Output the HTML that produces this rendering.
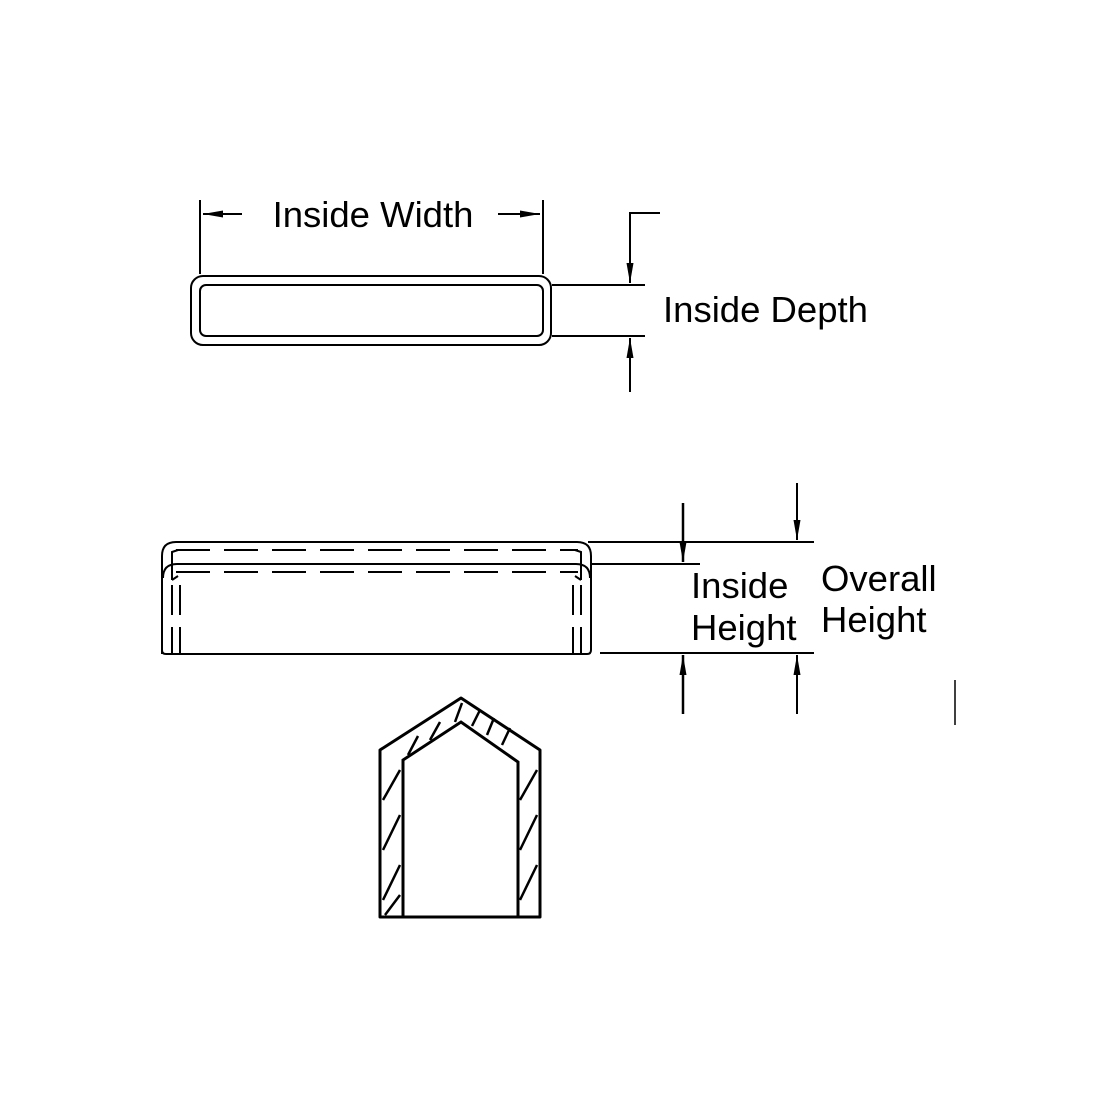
<!DOCTYPE html>
<html><head><meta charset="utf-8"><style>
html,body{margin:0;padding:0;background:#fff;}
svg{display:block}
text{font-family:"Liberation Sans",Arial,sans-serif;font-size:36.5px;fill:#000}
</style></head><body>
<svg width="1100" height="1100" viewBox="0 0 1100 1100" xmlns="http://www.w3.org/2000/svg">
<defs>
<marker id="ah" viewBox="0 0 20 10" markerWidth="20" markerHeight="10" refX="20" refY="5" orient="auto" markerUnits="userSpaceOnUse">
<path d="M0,1.5 L20,5 L0,8.5 z" fill="#000"/></marker>
<marker id="av" viewBox="0 0 10 24" markerWidth="24" markerHeight="10" refX="24" refY="5" orient="auto" markerUnits="userSpaceOnUse">
<path d="M0,1.5 L24,5 L0,8.5 z" fill="#000"/></marker>
</defs>
<g stroke="#000" fill="none" stroke-width="2">
<rect x="191" y="276" width="360" height="69" rx="12"/>
<rect x="200" y="285" width="343" height="51" rx="6"/>
<line x1="200" y1="200" x2="200" y2="274"/>
<line x1="543" y1="200" x2="543" y2="274"/>
<line x1="242" y1="214" x2="203" y2="214" marker-end="url(#ah)"/>
<line x1="498" y1="214" x2="540" y2="214" marker-end="url(#ah)"/>
<line x1="552" y1="285" x2="645" y2="285"/>
<line x1="552" y1="336" x2="645" y2="336"/>
<polyline points="660,213 630,213 630,270"/>
<line x1="630" y1="260" x2="630" y2="283" marker-end="url(#ah)"/>
<line x1="630" y1="392" x2="630" y2="338" marker-end="url(#ah)"/>
<path d="M162,654 L162,556 Q162,542 176,542 L577,542 Q591,542 591,556 L591,650 Q591,654 587,654 L166,654 Q162,654 162,650"/>
<path d="M163,578 Q163,564 177,564 L576,564 Q590,564 590,578"/>
<line x1="176" y1="550" x2="578" y2="550" stroke-dasharray="34,14"/>
<line x1="176" y1="572" x2="578" y2="572" stroke-dasharray="34,14"/>
<path d="M172,580 L172,552 L178,550 M172,580 L178,576"/>
<path d="M581,580 L581,552 L575,550 M581,580 L575,576"/>
<line x1="172" y1="585" x2="172" y2="654" stroke-dasharray="30,12"/>
<line x1="180" y1="585" x2="180" y2="654" stroke-dasharray="30,12"/>
<line x1="573" y1="585" x2="573" y2="654" stroke-dasharray="30,12"/>
<line x1="581" y1="585" x2="581" y2="654" stroke-dasharray="30,12"/>
<line x1="588" y1="542" x2="814" y2="542"/>
<line x1="592" y1="564" x2="700" y2="564"/>
<line x1="600" y1="653" x2="814" y2="653"/>
<line x1="683" y1="503" x2="683" y2="562" marker-end="url(#ah)" stroke-width="2.5"/>
<line x1="683" y1="714" x2="683" y2="655" marker-end="url(#ah)" stroke-width="2.5"/>
<line x1="797" y1="483" x2="797" y2="540" marker-end="url(#ah)"/>
<line x1="797" y1="714" x2="797" y2="655" marker-end="url(#ah)"/>
<line x1="955" y1="680" x2="955" y2="725" stroke-width="1.5"/>
<path d="M380,917 L380,750 L461,698 L540,750 L540,917 Z" stroke-width="3" stroke-linejoin="round"/>
<path d="M403,917 L403,760 L461,722 L518,762 L518,917" stroke-width="3"/>
<g stroke-width="2.5">
<line x1="383" y1="800" x2="400" y2="770"/>
<line x1="383" y1="850" x2="400" y2="815"/>
<line x1="383" y1="900" x2="400" y2="865"/>
<line x1="385" y1="915" x2="400" y2="895"/>
<line x1="408" y1="755" x2="418" y2="736"/>
<line x1="430" y1="740" x2="440" y2="722"/>
<line x1="455" y1="722" x2="462" y2="703"/>
<line x1="472" y1="726" x2="480" y2="710"/>
<line x1="487" y1="735" x2="494" y2="718"/>
<line x1="502" y1="745" x2="510" y2="728"/>
<line x1="520" y1="800" x2="537" y2="770"/>
<line x1="520" y1="850" x2="537" y2="815"/>
<line x1="520" y1="900" x2="537" y2="865"/>
</g>
</g>
<text x="373" y="227" text-anchor="middle">Inside Width</text>
<text x="663" y="322">Inside Depth</text>
<text x="691" y="598">Inside</text>
<text x="691" y="640">Height</text>
<text x="821" y="591">Overall</text>
<text x="821" y="632">Height</text>
</svg>
</body></html>
